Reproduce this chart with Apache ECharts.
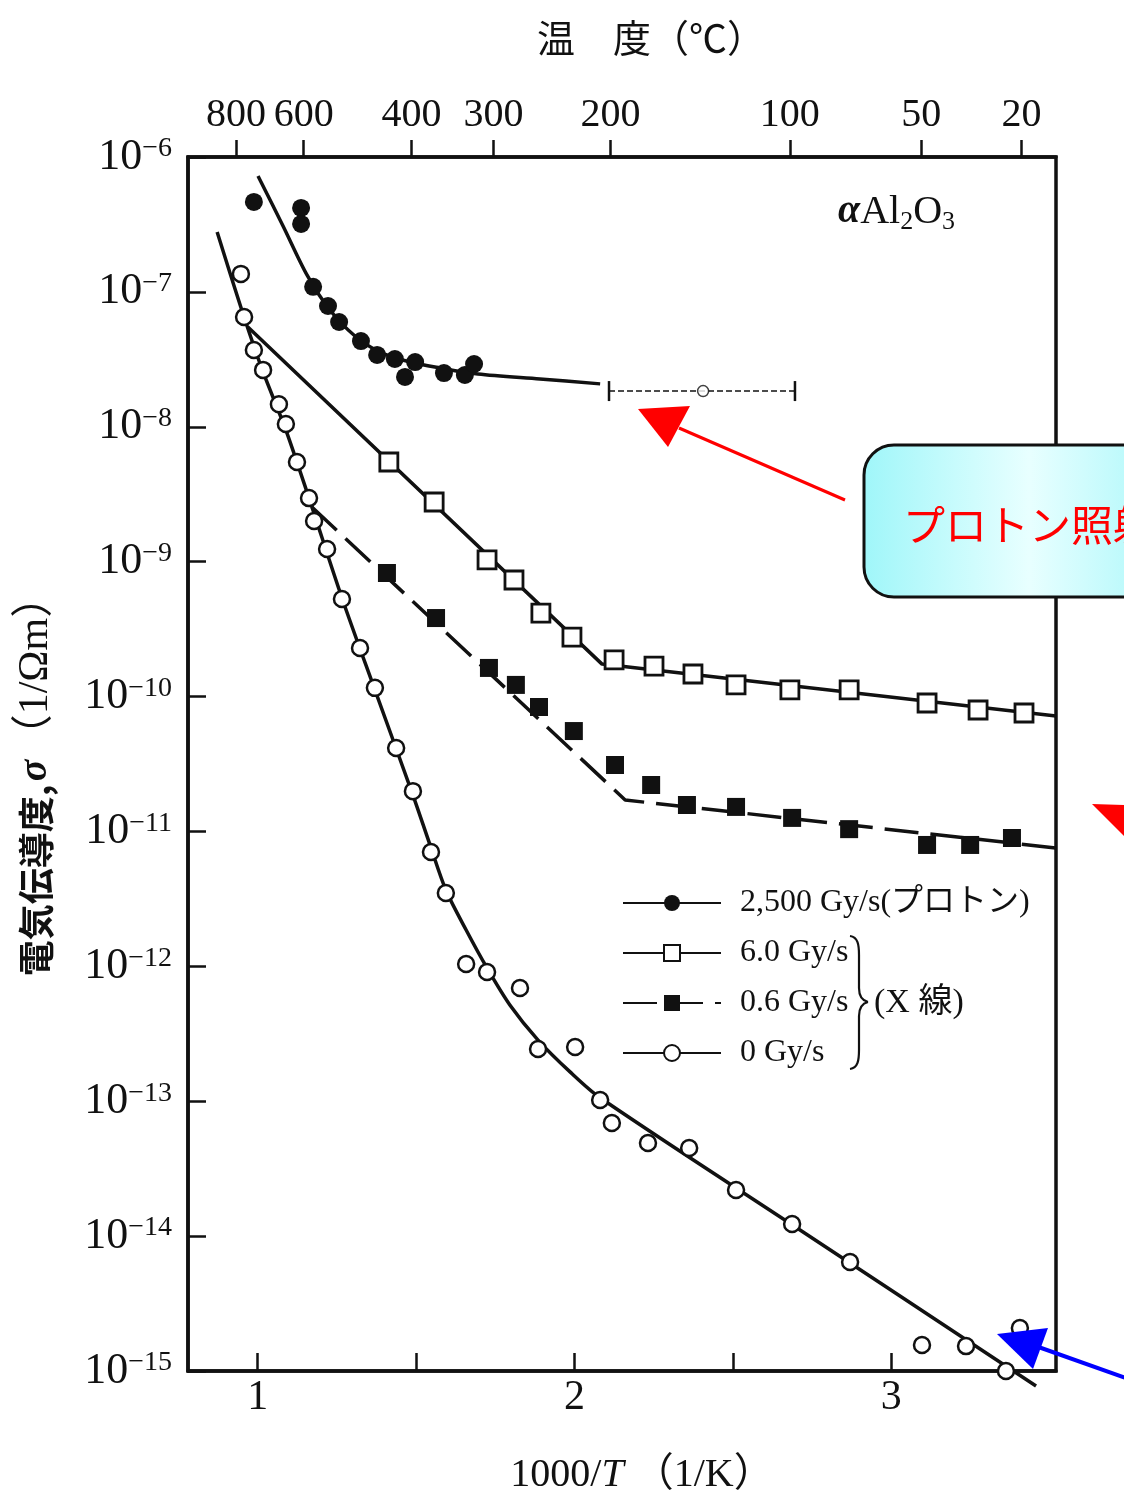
<!DOCTYPE html>
<html>
<head>
<meta charset="utf-8">
<script src="https://cdn.jsdelivr.net/npm/echarts@6/dist/echarts.min.js"></script>
<style>html,body{margin:0;padding:0;background:#fff}#c{width:1124px;height:1502px}</style>
</head>
<body>
<div id="c"></div>
<script>
// ---------- data (x = 1000/T [1/K], y = sigma [1/(Ohm m)]) ----------
const xTickValues = [1, 1.5, 2, 2.5, 3];
const xLabelValues = [1, 2, 3];
const tempTicksC = [800, 600, 400, 300, 200, 100, 50, 20];

// 2,500 Gy/s (proton) — measured points
const protonX = [0.988, 1.137, 1.137, 1.175, 1.222, 1.257, 1.326, 1.377, 1.433, 1.497, 1.465, 1.588, 1.654, 1.683];
const protonY = [4.64e-7, 4.19e-7, 3.19e-7, 1.09e-7, 7.86e-8, 5.98e-8, 4.32e-8, 3.41e-8, 3.18e-8, 3.02e-8, 2.34e-8, 2.50e-8, 2.42e-8, 2.92e-8];
// proton fitted curve
const protonFitX = [1.001, 1.080, 1.156, 1.228, 1.307, 1.386, 1.481, 1.575, 1.695, 1.891, 2.081];
const protonFitY = [7.23e-7, 3.08e-7, 1.33e-7, 7.34e-8, 4.71e-8, 3.58e-8, 3.02e-8, 2.73e-8, 2.46e-8, 2.26e-8, 2.08e-8];
// proton room-temperature point with range bar
const protonRtX = [2.406];
const protonRtY = [1.84e-8];
const protonRtRangeX = [2.109, 2.696];

// 6.0 Gy/s (X-ray)
const x6X = [1.414, 1.557, 1.724, 1.809, 1.894, 1.992, 2.125, 2.251, 2.374, 2.510, 2.680, 2.867, 3.113, 3.274, 3.419];
const x6Y = [5.48e-9, 2.77e-9, 1.03e-9, 7.31e-10, 4.16e-10, 2.76e-10, 1.87e-10, 1.68e-10, 1.47e-10, 1.22e-10, 1.12e-10, 1.12e-10, 8.96e-11, 7.95e-11, 7.55e-11];
const x6FitX = [0.969, 2.087, 3.52];
const x6FitY = [5.49e-8, 1.74e-10, 7.18e-11];

// 0.6 Gy/s (X-ray)
const x06X = [1.408, 1.563, 1.730, 1.815, 1.888, 1.998, 2.128, 2.242, 2.355, 2.510, 2.687, 2.867, 3.113, 3.249, 3.381];
const x06Y = [8.24e-10, 3.82e-10, 1.63e-10, 1.22e-10, 8.37e-11, 5.55e-11, 3.11e-11, 2.21e-11, 1.57e-11, 1.52e-11, 1.26e-11, 1.04e-11, 7.94e-12, 7.94e-12, 8.94e-12];
const x06FitX = [1.171, 2.160, 3.52];
const x06FitY = [2.54e-9, 1.71e-11, 7.54e-12];

// 0 Gy/s
const x0X = [0.947, 0.957, 0.988, 1.017, 1.067, 1.089, 1.124, 1.162, 1.178, 1.219, 1.266, 1.323, 1.370, 1.437, 1.490, 1.547, 1.594, 1.658, 1.724, 1.828, 1.885, 2.002, 2.081, 2.118, 2.232, 2.362, 2.510, 2.687, 2.870, 3.097, 3.236, 3.406, 3.362];
const x0Y = [1.36e-7, 6.51e-8, 3.71e-8, 2.64e-8, 1.47e-8, 1.05e-8, 5.48e-9, 2.96e-9, 2.00e-9, 1.24e-9, 5.29e-10, 2.29e-10, 1.16e-10, 4.15e-11, 1.99e-11, 7.04e-12, 3.50e-12, 1.04e-12, 9.08e-13, 6.91e-13, 2.44e-13, 2.52e-13, 1.02e-13, 6.90e-14, 4.90e-14, 4.50e-14, 2.20e-14, 1.23e-14, 6.43e-15, 1.56e-15, 1.53e-15, 2.08e-15, 1.00e-15];
const x0FitX = [0.872, 0.957, 1.017, 1.089, 1.162, 1.266, 1.370, 1.490, 1.544, 1.594, 1.658, 1.724, 1.796, 1.885, 1.986, 2.081, 2.712, 3.457];
const x0FitY = [2.78e-7, 6.51e-8, 2.55e-8, 9.46e-9, 2.96e-9, 5.38e-10, 1.12e-10, 1.86e-11, 7.94e-12, 3.68e-12, 1.86e-12, 9.72e-13, 5.17e-13, 2.84e-13, 1.65e-13, 1.06e-13, 1.11e-14, 7.74e-16];

const seriesNames = ['2,500 Gy/s(プロトン)', '6.0 Gy/s', '0.6 Gy/s', '0 Gy/s'];

// ---------- chart ----------
const SERIF = "'Liberation Serif','Noto Sans CJK JP',serif";
const CJK = "'Noto Sans CJK JP',sans-serif";
const INK = '#111';
const LW = 3.5;
const pairs = (xs, ys) => xs.map((x, i) => [x, ys[i]]);
const tempTickX = tempTicksC.map(t => 1000 / (t + 273.15));

const chart = echarts.init(document.getElementById('c'), null, {renderer: 'canvas'});

const option = {
  backgroundColor: '#fff',
  animation: false,
  grid: {left: 188, right: 68, top: 157, bottom: 131, show: true, borderColor: INK, borderWidth: 3.5, backgroundColor: 'transparent'},
  legend: {
    orient: 'vertical', left: 622, top: 887, padding: 0,
    itemWidth: 98, itemHeight: 20, itemGap: 18, selectedMode: false,
    data: seriesNames,
    textStyle: {fontFamily: SERIF, fontSize: 32, color: INK, padding: [0, 0, 0, 14]}
  },
  xAxis: [
    {
      type: 'value', position: 'bottom', min: 0.78, max: 3.52,
      axisLine: {show: true, onZero: false, lineStyle: {color: INK, width: 3.5}},
      axisTick: {show: true, inside: true, length: 18, customValues: xTickValues, lineStyle: {color: INK, width: 2.5}},
      axisLabel: {customValues: xLabelValues, fontFamily: SERIF, fontSize: 42, color: INK, margin: 6, formatter: v => String(v)},
      splitLine: {show: false},
      name: '{n|1000/}{i|T}{n| （1/K）}', nameLocation: 'middle', nameGap: 84,
      nameTextStyle: {padding: [0, 0, 0, 40], rich: {
        n: {fontFamily: SERIF, fontSize: 40, color: INK},
        i: {fontFamily: SERIF, fontStyle: 'italic', fontSize: 40, color: INK}
      }}
    },
    {
      type: 'value', position: 'top', min: 0.78, max: 3.52,
      axisLine: {show: true, onZero: false, lineStyle: {color: INK, width: 3.5}},
      axisTick: {show: true, inside: false, length: 17, customValues: tempTickX, lineStyle: {color: INK, width: 2.5}},
      axisLabel: {customValues: tempTickX, fontFamily: SERIF, fontSize: 40, color: INK, margin: 22,
        formatter: v => String(Math.round(1000 / v - 273.15))},
      splitLine: {show: false},
      name: '温　度（℃）', nameLocation: 'middle', nameGap: 100,
      nameTextStyle: {fontFamily: CJK, fontSize: 38, color: INK, padding: [0, 0, 0, 58]}
    }
  ],
  yAxis: [{
    type: 'log', logBase: 10, min: 1e-15, max: 1e-6, splitNumber: 9,
    axisLine: {show: true, onZero: false, lineStyle: {color: INK, width: 3.5}},
    axisTick: {show: true, inside: true, length: 18, lineStyle: {color: INK, width: 2.5}},
    minorTick: {show: false},
    splitLine: {show: false},
    axisLabel: {
      margin: 16,
      formatter: v => '{b|10}{s|−' + Math.round(-Math.log10(v)) + '}',
      rich: {
        b: {fontFamily: SERIF, fontSize: 44, color: INK},
        s: {fontFamily: SERIF, fontSize: 28, color: INK, verticalAlign: 'top'}
      }
    },
    name: '{j|電気伝導度,} {g|σ} {u|（1/Ωm）}', nameLocation: 'middle', nameGap: 131,
    nameTextStyle: {padding: [0, 24, 0, 0], rich: {
      j: {fontFamily: CJK, fontWeight: 'bold', fontSize: 36, color: INK},
      g: {fontFamily: SERIF, fontStyle: 'italic', fontWeight: 'bold', fontSize: 40, color: INK},
      u: {fontFamily: SERIF, fontSize: 42, color: INK}
    }}
  }],
  series: [
    {name: seriesNames[0], type: 'line', data: pairs(protonFitX, protonFitY), symbol: 'circle', showSymbol: false,
      smooth: 0.3, lineStyle: {color: INK, width: LW}, itemStyle: {color: INK}, z: 2, silent: true},
    {name: seriesNames[1], type: 'line', data: pairs(x6FitX, x6FitY), symbol: 'emptyRect', showSymbol: false,
      lineStyle: {color: INK, width: LW}, itemStyle: {color: INK}, z: 2, silent: true},
    {name: seriesNames[2], type: 'line', data: pairs(x06FitX, x06FitY), symbol: 'rect', showSymbol: false,
      lineStyle: {color: INK, width: LW, type: [34, 12]}, itemStyle: {color: INK}, z: 2, silent: true},
    {name: seriesNames[3], type: 'line', data: pairs(x0FitX, x0FitY), symbol: 'emptyCircle', showSymbol: false,
      smooth: 0.3, clip: false, lineStyle: {color: INK, width: LW}, itemStyle: {color: INK}, z: 2, silent: true},
    // range bar of the proton room-temperature point
    {name: 'proton-rt-range', type: 'line', data: protonRtRangeX.map(x => [x, protonRtY[0]]),
      symbol: 'rect', symbolSize: [2.5, 20], showSymbol: true,
      lineStyle: {color: INK, width: 1.5, type: [6, 3]}, itemStyle: {color: INK}, z: 3, silent: true},
    {name: 'proton-rt', type: 'scatter', data: pairs(protonRtX, protonRtY), symbol: 'circle', symbolSize: 11,
      itemStyle: {color: '#fff', borderColor: INK, borderWidth: 1.5}, z: 4, silent: true},
    // measured points
    {name: seriesNames[0], type: 'scatter', data: pairs(protonX, protonY), symbol: 'circle', symbolSize: 18,
      itemStyle: {color: INK, opacity: 1}, z: 5, silent: true},
    {name: seriesNames[1], type: 'scatter', data: pairs(x6X, x6Y), symbol: 'rect', symbolSize: 18,
      itemStyle: {color: '#fff', borderColor: INK, borderWidth: 2.8, opacity: 1}, z: 5, silent: true},
    {name: seriesNames[2], type: 'scatter', data: pairs(x06X, x06Y), symbol: 'rect', symbolSize: 18,
      itemStyle: {color: INK, opacity: 1}, z: 5, silent: true},
    {name: seriesNames[3], type: 'scatter', data: pairs(x0X, x0Y), symbol: 'circle', symbolSize: 16, clip: false,
      itemStyle: {color: '#fff', borderColor: INK, borderWidth: 2.5, opacity: 1}, z: 5, silent: true}
  ],
  graphic: [
    {type: 'text', x: 838, y: 212, z: 50,
      style: {text: '{a|α}{m|Al}{s|2}{m|O}{s|3}', verticalAlign: 'middle', textVerticalAlign: 'middle',
        rich: {
          a: {fontFamily: SERIF, fontStyle: 'italic', fontWeight: 'bold', fontSize: 40, lineHeight: 46, fill: INK, color: INK},
          m: {fontFamily: SERIF, fontSize: 40, lineHeight: 46, fill: INK, color: INK},
          s: {fontFamily: SERIF, fontSize: 26, lineHeight: 26, verticalAlign: 'bottom', fill: INK, color: INK}
        }}},
    // brace
    {type: 'group', z: 50, children: [
      {type: 'bezierCurve', shape: {x1: 850, y1: 936, x2: 859, y2: 955, cpx1: 858, cpy1: 937, cpx2: 859, cpy2: 945}, style: {stroke: INK, lineWidth: 2.2, fill: null}},
      {type: 'line', shape: {x1: 859, y1: 955, x2: 859, y2: 988}, style: {stroke: INK, lineWidth: 2.2}},
      {type: 'bezierCurve', shape: {x1: 859, y1: 988, x2: 868, y2: 1002, cpx1: 859, cpy1: 998, cpx2: 864, cpy2: 1001}, style: {stroke: INK, lineWidth: 2.2, fill: null}},
      {type: 'bezierCurve', shape: {x1: 868, y1: 1002, x2: 859, y2: 1016, cpx1: 864, cpy1: 1003, cpx2: 859, cpy2: 1006}, style: {stroke: INK, lineWidth: 2.2, fill: null}},
      {type: 'line', shape: {x1: 859, y1: 1016, x2: 859, y2: 1050}, style: {stroke: INK, lineWidth: 2.2}},
      {type: 'bezierCurve', shape: {x1: 859, y1: 1050, x2: 850, y2: 1069, cpx1: 859, cpy1: 1060, cpx2: 858, cpy2: 1068}, style: {stroke: INK, lineWidth: 2.2, fill: null}}
    ]},
    {type: 'text', x: 874, y: 1003, z: 50,
      style: {text: '(X 線)', font: "34px 'Liberation Serif','Noto Sans CJK JP',serif", fill: INK,
        verticalAlign: 'middle', textVerticalAlign: 'middle'}},
    // callout
    {type: 'rect', z: 100, shape: {x: 864, y: 445, width: 330, height: 152, r: 30},
      style: {fill: {type: 'linear', x: 0, y: 0, x2: 1, y2: 0, colorStops: [
        {offset: 0, color: '#9ff6f9'}, {offset: 0.5, color: '#e8ffff'}, {offset: 1, color: '#9ff6f9'}]},
        stroke: INK, lineWidth: 3}},
    {type: 'text', z: 101, x: 903, y: 525,
      style: {text: 'プロトン照射', font: "42px 'Noto Sans CJK JP',sans-serif", fill: '#ff0000',
        verticalAlign: 'middle', textVerticalAlign: 'middle'}},
    // arrows
    {type: 'line', z: 100, shape: {x1: 845, y1: 500, x2: 679, y2: 428}, style: {stroke: '#ff0000', lineWidth: 3}},
    {type: 'polygon', z: 100, shape: {points: [[638, 409], [690, 406], [668, 447]]}, style: {fill: '#ff0000'}},
    {type: 'polygon', z: 100, shape: {points: [[1092, 804], [1152, 806], [1134, 846]]}, style: {fill: '#ff0000'}},
    {type: 'line', z: 100, shape: {x1: 1030, y1: 1344, x2: 1140, y2: 1383}, style: {stroke: '#0000ff', lineWidth: 4}},
    {type: 'polygon', z: 100, shape: {points: [[997, 1334], [1048, 1328], [1033, 1369]]}, style: {fill: '#0000ff'}}
  ]
};
chart.setOption(option);
</script>
</body>
</html>
